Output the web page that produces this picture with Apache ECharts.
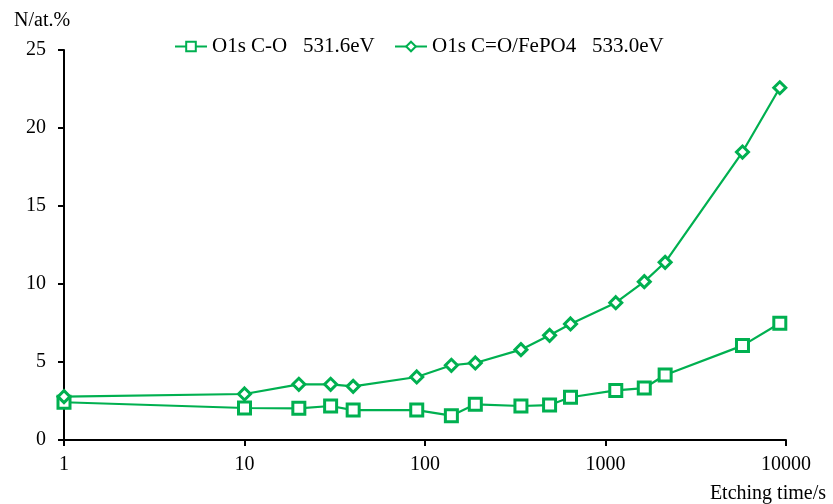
<!DOCTYPE html>
<html>
<head>
<meta charset="utf-8">
<script src="https://cdn.jsdelivr.net/npm/echarts@6/dist/echarts.min.js"></script>
<style>
  html, body { margin: 0; padding: 0; background: #fff; }
  #chart { width: 833px; height: 504px; }
</style>
</head>
<body>
<div id="chart"></div>
<script>
// Etching times (s) and atomic percentages of the two O1s components
const etchTimes = [1, 10, 20, 30, 40, 90, 140, 190, 340, 490, 640, 1140, 1640, 2140, 5740, 9240];
const oCO = [2.42, 2.05, 2.03, 2.18, 1.92, 1.92, 1.56, 2.29, 2.18, 2.24, 2.74, 3.18, 3.33, 4.17, 6.05, 7.48];
const oCdoubleO = [2.78, 2.95, 3.57, 3.57, 3.44, 4.04, 4.79, 4.94, 5.79, 6.71, 7.44, 8.80, 10.15, 11.39, 18.46, 22.58];
const seriesNames = ['O1s C-O   531.6eV', 'O1s C=O/FePO4   533.0eV'];
const xTickLabels = ['1', '10', '100', '1000', '10000'];

const green = '#00B050';
const serif = '"Liberation Serif", "Times New Roman", serif';
const fs = 20;

function pairs(ys) {
  return etchTimes.map((t, i) => [t, ys[i]]);
}

function legendAt(left, name) {
  return {
    top: 36,
    left: left,
    padding: 0,
    itemWidth: 32,
    itemHeight: 12,
    textStyle: { fontFamily: serif, fontSize: 21, color: '#000' },
    data: [name]
  };
}

const chart = echarts.init(document.getElementById('chart'));
chart.setOption({
  animation: false,
  backgroundColor: '#fff',
  textStyle: { fontFamily: serif, color: '#000' },
  title: [
    { text: 'N/at.%', left: 9, top: 6,
      textStyle: { fontFamily: serif, fontSize: fs, fontWeight: 'normal', color: '#000' } },
    { text: 'Etching time/s', right: 2, top: 479,
      textStyle: { fontFamily: serif, fontSize: fs, fontWeight: 'normal', color: '#000' } }
  ],
  legend: [legendAt(174, seriesNames[0]), legendAt(394, seriesNames[1])],
  grid: { left: 64, right: 47, top: 50, bottom: 64 },
  xAxis: {
    type: 'log',
    logBase: 10,
    min: 1,
    max: 10000,
    axisLine: { lineStyle: { color: '#000', width: 2 } },
    axisTick: { show: true, length: 6, lineStyle: { color: '#000', width: 2 } },
    minorTick: { show: false },
    splitLine: { show: false },
    axisLabel: {
      fontFamily: serif, fontSize: fs, color: '#000', margin: 15,
      formatter: v => {
        const s = String(Math.round(v));
        return xTickLabels.includes(s) ? s : '';
      }
    }
  },
  yAxis: {
    type: 'value',
    min: 0,
    max: 25,
    interval: 5,
    axisLine: { show: true, lineStyle: { color: '#000', width: 2 } },
    axisTick: { show: true, length: 6, lineStyle: { color: '#000', width: 2 } },
    splitLine: { show: false },
    axisLabel: { fontFamily: serif, fontSize: fs, color: '#000', margin: 18 }
  },
  series: [
    {
      name: seriesNames[0],
      type: 'line',
      data: pairs(oCO),
      symbol: 'rect',
      symbolSize: 12,
      lineStyle: { color: green, width: 2.2 },
      itemStyle: { color: '#fff', borderColor: green, borderWidth: 3 },
      z: 3
    },
    {
      name: seriesNames[1],
      type: 'line',
      data: pairs(oCdoubleO),
      symbol: 'diamond',
      symbolSize: 12,
      lineStyle: { color: green, width: 2.2 },
      itemStyle: { color: '#fff', borderColor: green, borderWidth: 3 },
      z: 4
    }
  ]
});
</script>
</body>
</html>
